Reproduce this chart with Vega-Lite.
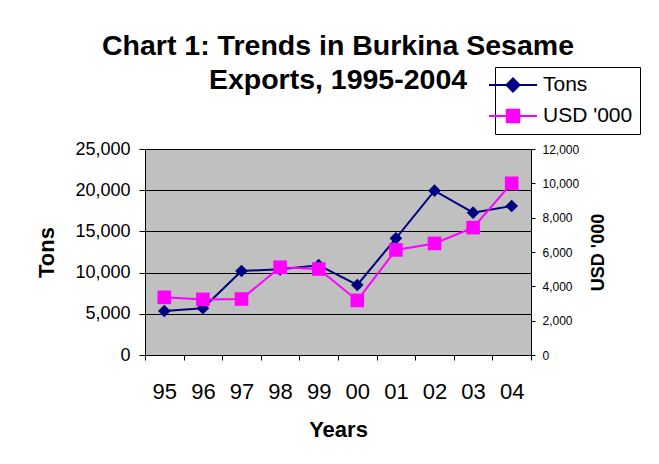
{
  "$schema": "https://vega.github.io/schema/vega-lite/v6.json",
  "autosize": "none",
  "width": 386,
  "height": 206,
  "padding": {"left": 145, "top": 149, "right": 128, "bottom": 109},
  "background": "white",
  "title": {
    "text": ["Chart 1: Trends in Burkina Sesame", "Exports, 1995-2004"],
    "font": "Liberation Sans",
    "fontSize": 28.5,
    "fontWeight": "bold",
    "lineHeight": 34,
    "color": "black",
    "anchor": "middle",
    "offset": -28
  },
  "config": {
    "view": {"fill": "#C0C0C0", "stroke": "#808080", "strokeWidth": 1},
    "font": "Liberation Sans"
  },
  "data": {
    "values": [
      {"year": "95", "tons": 5340, "usd": 3360},
      {"year": "96", "tons": 5670, "usd": 3240},
      {"year": "97", "tons": 10200, "usd": 3260},
      {"year": "98", "tons": 10400, "usd": 5110},
      {"year": "99", "tons": 10900, "usd": 5010},
      {"year": "00", "tons": 8500, "usd": 3180},
      {"year": "01", "tons": 14160, "usd": 6120},
      {"year": "02", "tons": 19940, "usd": 6500},
      {"year": "03", "tons": 17270, "usd": 7420},
      {"year": "04", "tons": 18080, "usd": 10000}
    ]
  },
  "encoding": {
    "x": {
      "field": "year",
      "type": "ordinal",
      "sort": null,
      "scale": {"type": "band", "paddingInner": 0, "paddingOuter": 0},
      "axis": {
        "title": "Years",
        "titleFont": "Liberation Sans",
        "titleFontSize": 22,
        "titleFontWeight": "bold",
        "titleColor": "black",
        "titlePadding": 17,
        "labelFont": "Liberation Sans",
        "labelFontSize": 22,
        "labelColor": "black",
        "labelAngle": 0,
        "labelPadding": 21,
        "tickBand": "extent",
        "tickSize": 5,
        "tickColor": "black",
        "domainColor": "black",
        "grid": false
      }
    }
  },
  "layer": [
    {
      "encoding": {
        "y": {
          "field": "tons",
          "type": "quantitative",
          "scale": {"domain": [0, 25000], "nice": false, "zero": true},
          "axis": {
            "orient": "left",
            "values": [0, 5000, 10000, 15000, 20000, 25000],
            "format": ",d",
            "title": "Tons",
            "titleFont": "Liberation Sans",
            "titleFontSize": 22,
            "titleFontWeight": "bold",
            "titleColor": "black",
            "titlePadding": 16,
            "labelFont": "Liberation Sans",
            "labelFontSize": 18,
            "labelColor": "black",
            "labelPadding": 9,
            "tickSize": 6,
            "tickColor": "black",
            "domainColor": "black",
            "grid": true,
            "gridColor": "black",
            "gridOpacity": 1,
            "gridWidth": 1
          }
        },
        "color": {
          "datum": "Tons",
          "type": "nominal",
          "scale": {"domain": ["Tons", "USD '000"], "range": ["#000080", "#FF00FF"]},
          "legend": {
            "title": null,
            "orient": "none",
            "legendX": 350,
            "legendY": -82,
            "direction": "vertical",
            "strokeColor": "black",
            "fillColor": "white",
            "padding": 7,
            "rowPadding": 9,
            "labelFont": "Liberation Sans",
            "labelFontSize": 21,
            "labelColor": "black",
            "labelOffset": 19,
            "symbolSize": 400,
            "symbolStrokeWidth": 2,
            "encode": {
              "symbols": {
                "update": {
                  "shape": {"signal": "datum.value === 'Tons' ? 'M-2.4,0H2.4M-0.65,0L0,-0.65L0.65,0L0,0.65Z' : 'M-2.4,0H2.4M-0.62,-0.62H0.62V0.62H-0.62Z'"},
                  "fill": {"signal": "datum.value === 'Tons' ? '#000080' : '#FF00FF'"},
                  "stroke": {"signal": "datum.value === 'Tons' ? '#000080' : '#FF00FF'"},
                  "strokeWidth": {"value": 2},
                  "opacity": {"value": 1},
                  "fillOpacity": {"value": 1}
                }
              }
            }
          }
        }
      },
      "layer": [
        {"mark": {"type": "line", "strokeWidth": 2}},
        {"mark": {"type": "point", "shape": "diamond", "filled": true, "size": 160, "opacity": 1}}
      ]
    },
    {
      "encoding": {
        "y": {
          "field": "usd",
          "type": "quantitative",
          "scale": {"domain": [0, 12000], "nice": false, "zero": true},
          "axis": {
            "orient": "right",
            "values": [0, 2000, 4000, 6000, 8000, 10000, 12000],
            "format": ",d",
            "title": "USD '000",
            "titleFont": "Liberation Sans",
            "titleFontSize": 18,
            "titleFontWeight": "bold",
            "titleColor": "black",
            "titleAngle": 270,
            "titlePadding": 29,
            "labelFont": "Liberation Sans",
            "labelFontSize": 12,
            "labelColor": "black",
            "labelPadding": 7,
            "tickSize": 4,
            "tickColor": "black",
            "domainColor": "black",
            "grid": false
          }
        },
        "color": {"datum": "USD '000", "type": "nominal"}
      },
      "layer": [
        {"mark": {"type": "line", "strokeWidth": 2}},
        {"mark": {"type": "point", "shape": "square", "filled": true, "size": 185, "opacity": 1}}
      ]
    }
  ],
  "resolve": {"scale": {"y": "independent"}}
}
